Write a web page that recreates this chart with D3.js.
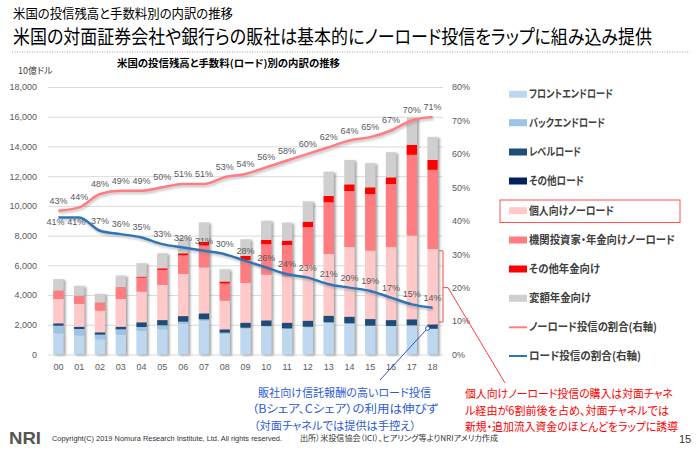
<!DOCTYPE html>
<html><head><meta charset="utf-8">
<script src="https://cdn.jsdelivr.net/npm/d3@7"></script>
<style>
body{margin:0;background:#fff;}
svg{font-family:"Noto Sans CJK JP","Noto Sans",sans-serif;}
text{font-feature-settings:"palt";}
</style></head><body>
<svg id="c" width="700" height="451"></svg>
<script>
// ---------- data ----------
const years = ["00","01","02","03","04","05","06","07","08","09","10","11","12","13","14","15","16","17","18"];
const frontEnd   = [1425,1290,1020,1330,1600,1695,2050,2275,1380,1750,1880,1720,1840,2140,2080,1920,1900,1950,1720];
const backEnd    = [515,425,315,365,250,270,160,95,90,50,40,40,30,30,20,20,20,15,10];
const levelLoad  = [140,140,145,155,300,335,360,380,205,320,360,360,385,420,425,430,380,385,280];
const otherLoad  = [20,15,15,20,20,20,20,20,20,20,20,20,20,20,20,20,20,20,20];
const indivNoLoad= [1635,1530,1455,1865,2060,2360,2830,3090,1925,2670,3070,3100,3725,4150,4685,4600,4910,5630,5070];
const instNoLoad = [555,540,540,785,940,1010,1260,1470,1150,1550,2050,2130,2580,3480,3770,3810,4240,5430,5320];
const otherPension=[10,10,10,10,70,110,130,240,140,270,290,290,360,430,450,450,450,670,670];
const varAnnuity = [770,670,580,780,900,1010,1040,1320,820,1120,1290,1210,1360,1630,1640,1620,1690,1850,1550];
const noLoadShare = [43,44,48,49,49,50,51,51,53,54,56,58,60,62,64,65,67,70,71];
const loadShare   = [41,41,37,36,35,33,32,31,30,28,26,24,23,21,20,19,17,15,14];
const leftTicks  = [0,2000,4000,6000,8000,10000,12000,14000,16000,18000];
const rightTicks = [0,0.1,0.2,0.3,0.4,0.5,0.6,0.7,0.8];
const seriesNames = ["フロントエンドロード","バックエンドロード","レベルロード","その他ロード","個人向けノーロード","機関投資家・年金向けノーロード","その他年金向け","変額年金向け"];
const lineNames = ["ノーロード投信の割合(右軸)","ロード投信の割合(右軸)"];
const seriesColors = ["#BDD7EE","#9DC3E6","#1F4E79","#002060","#FFC9C9","#FF7C80","#FF0000","#D0CECE"];
const lineColors = ["#FF7C80","#2E75B6"];

// ---------- layout ----------
const svg = d3.select("#c");
const plot = {l:48, r:443, t:87, b:354.5};
const legendTextW = [84,76,52,55,85,146,71,62,128,112];

const defs = svg.append("defs");
const f = defs.append("filter").attr("id","sh").attr("x","-50%").attr("y","-10%").attr("width","220%").attr("height","130%");
f.append("feDropShadow").attr("dx",2).attr("dy",1).attr("stdDeviation",0.8).attr("flood-color","#808080").attr("flood-opacity",0.7);
const f2 = defs.append("filter").attr("id","lsh").attr("x","-10%").attr("y","-30%").attr("width","120%").attr("height","160%");
f2.append("feDropShadow").attr("dx",1).attr("dy",2).attr("stdDeviation",1).attr("flood-color","#808080").attr("flood-opacity",0.45);

// titles
svg.append("text").attr("x",13).attr("y",18).attr("font-size",13).attr("fill","#000")
  .attr("textLength",220).attr("lengthAdjust","spacingAndGlyphs").text("米国の投信残高と手数料別の内訳の推移");
svg.append("text").attr("transform","translate(13,44) scale(1,1.2)").attr("font-size",16.3).attr("fill","#000")
  .attr("textLength",639).attr("lengthAdjust","spacingAndGlyphs").text("米国の対面証券会社や銀行らの販社は基本的にノーロード投信をラップに組み込み提供");
svg.append("line").attr("x1",12).attr("x2",690).attr("y1",52).attr("y2",52)
  .attr("stroke","#A0A0A0").attr("stroke-width",1).attr("stroke-dasharray","1,1.5");
svg.append("text").attr("x",117).attr("y",67).attr("font-size",10).attr("font-weight","bold").attr("fill","#000")
  .attr("textLength",223).attr("lengthAdjust","spacingAndGlyphs").text("米国の投信残高と手数料(ロード)別の内訳の推移");
svg.append("text").attr("x",18).attr("y",74).attr("font-size",9).attr("fill","#404040").text("10億ドル");

// scales
const x = d3.scaleBand().domain(years).range([plot.l, plot.r]).paddingInner(0.5).paddingOuter(0.25);
const y = d3.scaleLinear().domain([0,18000]).range([plot.b, plot.t]);
const y2 = d3.scaleLinear().domain([0,0.8]).range([plot.b, plot.t]);

// grid
const grid = svg.append("g").attr("transform",`translate(${plot.l},0)`)
  .call(d3.axisLeft(y).tickValues(leftTicks).tickSize(-(plot.r-plot.l)).tickFormat(""));
grid.select(".domain").remove();
grid.selectAll("line").attr("stroke","#D9D9D9");

// left axis
const la = svg.append("g").attr("transform",`translate(40,0)`)
  .call(d3.axisLeft(y).tickValues(leftTicks).tickSize(0).tickFormat(d3.format(",")));
la.select(".domain").remove();
la.selectAll("text").attr("font-size",9).attr("fill","#595959").attr("font-family","Liberation Sans, Arial, sans-serif");

// right axis
const ra = svg.append("g").attr("transform",`translate(449,0)`)
  .call(d3.axisRight(y2).tickValues(rightTicks).tickSize(0).tickFormat(d3.format(".0%")));
ra.select(".domain").remove();
ra.selectAll("text").attr("font-size",9).attr("fill","#595959").attr("font-family","Liberation Sans, Arial, sans-serif");

// x axis
const xa = svg.append("g").attr("transform",`translate(0,${plot.b+6})`)
  .call(d3.axisBottom(x).tickSize(0));
xa.select(".domain").remove();
xa.selectAll("text").attr("font-size",9).attr("fill","#595959").attr("font-family","Liberation Sans, Arial, sans-serif");

// stacked bars
const seriesArrays = [frontEnd,backEnd,levelLoad,otherLoad,indivNoLoad,instNoLoad,otherPension,varAnnuity];
const table = years.map((yr,i)=>{const o={year:yr}; seriesArrays.forEach((a,k)=>o["s"+k]=a[i]); return o;});
const keys = seriesArrays.map((a,k)=>"s"+k);
const stacked = d3.stack().keys(keys)(table);
const barG = svg.append("g");
years.forEach((yr,i)=>{
  const g = barG.append("g").attr("filter","url(#sh)");
  stacked.forEach((layer,k)=>{
    const d = layer[i];
    g.append("rect").attr("x",x(yr)).attr("width",x.bandwidth())
      .attr("y",y(d[1])).attr("height",Math.max(0,y(d[0])-y(d[1])))
      .attr("fill",seriesColors[k]);
  });
});

// lines
const cx = d => x(d)+x.bandwidth()/2;
const lineGen = arr => d3.line().x((d,i)=>cx(years[i])).y(d=>y2(d/100)).curve(d3.curveMonotoneX)(arr);
svg.append("path").attr("d",lineGen(noLoadShare)).attr("fill","none").attr("stroke",lineColors[0]).attr("stroke-width",2.5).attr("filter","url(#lsh)");
svg.append("path").attr("d",lineGen(loadShare)).attr("fill","none").attr("stroke",lineColors[1]).attr("stroke-width",2.5).attr("filter","url(#lsh)");

// data labels
const lab = svg.append("g").attr("font-size",9).attr("fill","#595959").attr("text-anchor","middle").attr("font-family","Liberation Sans, Arial, sans-serif");
noLoadShare.forEach((v,i)=>{
  lab.append("text").attr("x",cx(years[i])).attr("y",y2(v/100)-7).text(v+"%");
});
loadShare.forEach((v,i)=>{
  const below = i<2;
  lab.append("text").attr("x",cx(years[i])-(below?3:0)).attr("y",y2(v/100)+(below?8:-7)).text(v+"%");
});

// bracket + annotation lines
const bx = plot.r;
svg.append("path").attr("d",`M${bx-4},${y2(0.31)} H${bx} V${y2(0.097)} H${bx-4} M${bx},${y2(0.2)} H${bx+5} L505,383`)
  .attr("fill","none").attr("stroke","#FF4040").attr("stroke-width",1);
const c18 = cx("18");
svg.append("path").attr("d",`M${c18-6},${y(1760)+1} L380,380`).attr("stroke","#3050D0").attr("stroke-width",1).attr("fill","none");
svg.append("circle").attr("cx",c18-5).attr("cy",y(1760)).attr("r",2).attr("fill","#fff").attr("stroke","#3050D0").attr("stroke-width",1);

// legend
const lg = svg.append("g");
const lgY = [94.3,122.7,152,181,210.7,240,269,298.3,327.3,356];
const allNames = seriesNames.concat(lineNames);
allNames.forEach((n,i)=>{
  if(i<8){
    lg.append("rect").attr("x",509).attr("y",lgY[i]-3.5).attr("width",18).attr("height",7).attr("fill",seriesColors[i]);
  } else {
    lg.append("line").attr("x1",509).attr("x2",527).attr("y1",lgY[i]).attr("y2",lgY[i]).attr("stroke",lineColors[i-8]).attr("stroke-width",2);
  }
  lg.append("text").attr("x",529).attr("y",lgY[i]+4).attr("font-size",11).attr("font-weight","bold").attr("fill","#404040")
    .attr("textLength",legendTextW[i]).attr("lengthAdjust","spacingAndGlyphs").text(n);
});
lg.append("rect").attr("x",500).attr("y",200).attr("width",180).attr("height",22.5).attr("fill","none").attr("stroke","#FF5050").attr("stroke-width",1);

// annotations
const blueTxt = ["販社向け信託報酬の高いロード投信","（Bシェア、Cシェア）の利用は伸びず","（対面チャネルでは提供は手控え）"];
const blueX = [258,252,254], blueW=[173,186,162];
blueTxt.forEach((t,i)=>svg.append("text").attr("x",blueX[i]).attr("y",397+i*16.3).attr("font-size",11.2).attr("fill","#2E5BD8")
  .attr("textLength",blueW[i]).attr("lengthAdjust","spacingAndGlyphs").text(t));
const redTxt = ["個人向けノーロード投信の購入は対面チャネ","ル経由が6割前後を占め、対面チャネルでは","新規・追加流入資金のほとんどをラップに誘導"];
const redW=[208,204,213];
redTxt.forEach((t,i)=>svg.append("text").attr("x",465).attr("y",398+i*16.5).attr("font-size",11.4).attr("fill","#FF0000")
  .attr("textLength",redW[i]).attr("lengthAdjust","spacingAndGlyphs").text(t));

// footer
svg.append("text").attr("x",9).attr("y",444).attr("font-size",17).attr("font-weight","bold").attr("fill","#555")
  .attr("font-family","Liberation Sans, Arial, sans-serif").attr("textLength",32).attr("lengthAdjust","spacingAndGlyphs").text("NRI");
svg.append("text").attr("x",52).attr("y",441).attr("font-size",7.5).attr("fill","#333").attr("font-family","Liberation Sans, Arial, sans-serif")
  .attr("textLength",230).attr("lengthAdjust","spacingAndGlyphs").text("Copyright(C) 2019 Nomura Research Institute, Ltd. All rights reserved.");
svg.append("text").attr("x",300).attr("y",441).attr("font-size",8).attr("fill","#333")
  .attr("textLength",198).attr("lengthAdjust","spacingAndGlyphs").text("出所）米投信協会（ICI）、ヒアリング等よりNRIアメリカ作成");
svg.append("text").attr("x",679).attr("y",443).attr("font-size",11).attr("fill","#333").attr("font-family","Liberation Sans, Arial, sans-serif").text("15");
</script>
</body></html>
